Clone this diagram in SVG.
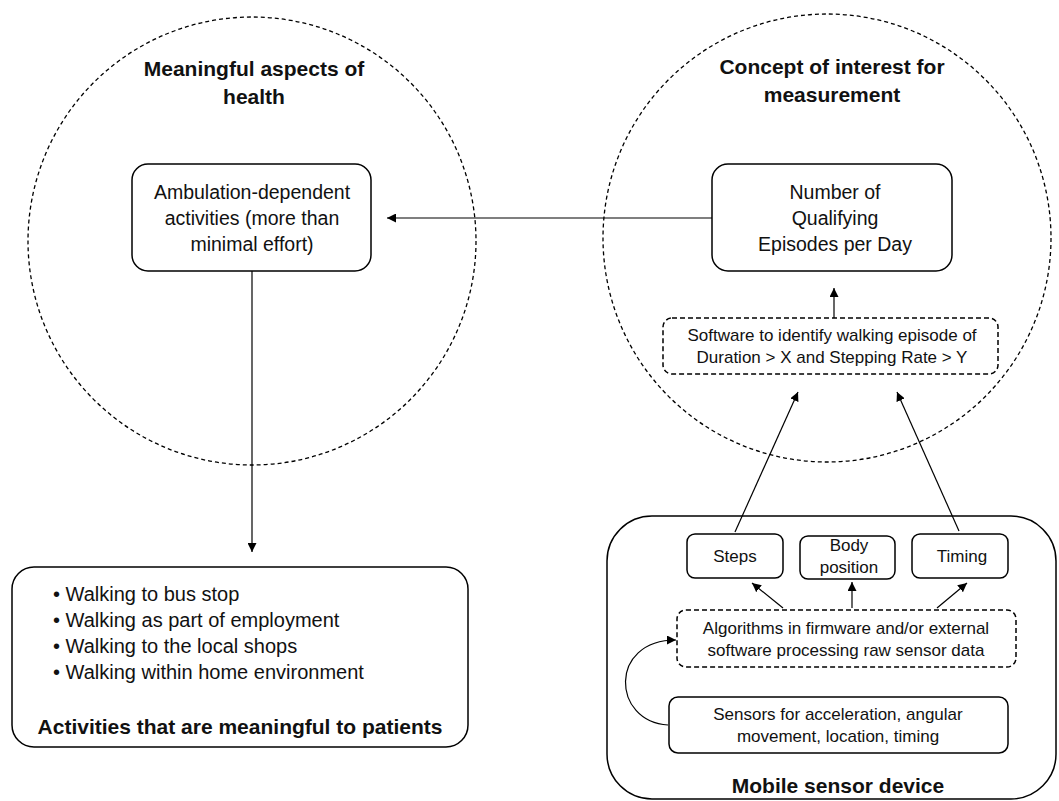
<svg xmlns="http://www.w3.org/2000/svg" width="1059" height="801" viewBox="0 0 1059 801">
<defs>
<marker id="ah" viewBox="0 0 10 10" refX="10" refY="5" markerWidth="9" markerHeight="9" markerUnits="userSpaceOnUse" orient="auto">
<path d="M0,0 L10,5 L0,10 z" fill="#000"/>
</marker>
<style>
.circ{fill:none;stroke:#000;stroke-width:1.3;stroke-dasharray:4 3}
.box{fill:#fff;stroke:#000;stroke-width:1.5}
.dbox{fill:#fff;stroke:#000;stroke-width:1.5;stroke-dasharray:5 3}
.big{fill:none;stroke:#000;stroke-width:1.5}
.con{fill:none;stroke:#000;stroke-width:1.2;marker-end:url(#ah)}
.t{font-family:"Liberation Sans",Arial,sans-serif;fill:#111;text-anchor:middle}
.b{font-weight:bold;font-size:21px}
.r19{font-size:19.5px}
.r17{font-size:17px}
.r20{font-size:20px}
.l{text-anchor:start}
</style>
</defs>
<rect width="1059" height="801" fill="#fff"/>

<g id="health-circle">
<circle class="circ" cx="252" cy="241" r="224"/>
<text class="t b" x="254" y="76">Meaningful aspects of</text>
<text class="t b" x="254" y="104">health</text>
</g>

<g id="concept-circle">
<circle class="circ" cx="827" cy="238" r="224"/>
<text class="t b" x="832" y="74">Concept of interest for</text>
<text class="t b" x="832" y="102">measurement</text>
</g>

<g id="mobile-device">
<rect class="big" x="607" y="516" width="449" height="283" rx="45"/>
<text class="t b" x="838" y="793">Mobile sensor device</text>
</g>

<g id="ambulation">
<rect class="box" x="132" y="164" width="239" height="107" rx="16"/>
<text class="t r19" x="252" y="199">Ambulation-dependent</text>
<text class="t r19" x="252" y="225">activities (more than</text>
<text class="t r19" x="252" y="251">minimal effort)</text>
</g>

<g id="number-episodes">
<rect class="box" x="712" y="164" width="240" height="107" rx="16"/>
<text class="t r19" x="835" y="199">Number of</text>
<text class="t r19" x="835" y="225">Qualifying</text>
<text class="t r19" x="835" y="251">Episodes per Day</text>
</g>

<g id="software">
<rect class="dbox" x="663" y="318" width="335" height="56" rx="9"/>
<text class="t r17" x="832" y="341">Software to identify walking episode of</text>
<text class="t r17" x="832" y="363">Duration &gt; X and Stepping Rate &gt; Y</text>
</g>

<g id="activities">
<rect class="box" x="12" y="567" width="456" height="180" rx="22"/>
<text class="t r20 l" x="53" y="601">• Walking to bus stop</text>
<text class="t r20 l" x="53" y="627">• Walking as part of employment</text>
<text class="t r20 l" x="53" y="653">• Walking to the local shops</text>
<text class="t r20 l" x="53" y="679">• Walking within home environment</text>
<text class="t b" x="240" y="734">Activities that are meaningful to patients</text>
</g>

<g id="steps">
<rect class="box" x="687" y="534" width="96" height="44" rx="8"/>
<text class="t r17" x="735" y="562">Steps</text>
</g>

<g id="body-position">
<rect class="box" x="800" y="536" width="95" height="43" rx="8"/>
<text class="t r17" x="849" y="551">Body</text>
<text class="t r17" x="849" y="573">position</text>
</g>

<g id="timing">
<rect class="box" x="912" y="534" width="96" height="44" rx="8"/>
<text class="t r17" x="962" y="562">Timing</text>
</g>

<g id="algorithms">
<rect class="dbox" x="677" y="610" width="339" height="57" rx="9"/>
<text class="t r17" x="846" y="634">Algorithms in firmware and/or external</text>
<text class="t r17" x="846" y="656">software processing raw sensor data</text>
</g>

<g id="sensors">
<rect class="box" x="669" y="697" width="339" height="56" rx="9"/>
<text class="t r17" x="838" y="720">Sensors for acceleration, angular</text>
<text class="t r17" x="838" y="742">movement, location, timing</text>
</g>

<g id="connectors">
<line class="con" x1="712" y1="218" x2="387" y2="218"/>
<line class="con" x1="252" y1="271" x2="252" y2="552"/>
<line class="con" x1="834" y1="318" x2="834" y2="288"/>
<line class="con" x1="735" y1="532" x2="798" y2="392"/>
<line class="con" x1="959" y1="531" x2="897" y2="392"/>
<line class="con" x1="783" y1="608" x2="752" y2="583"/>
<line class="con" x1="852" y1="608" x2="852" y2="582"/>
<line class="con" x1="937" y1="608" x2="967" y2="583"/>
<path class="con" d="M668,725 C612,722 608,640 676,640"/>
</g>
</svg>
